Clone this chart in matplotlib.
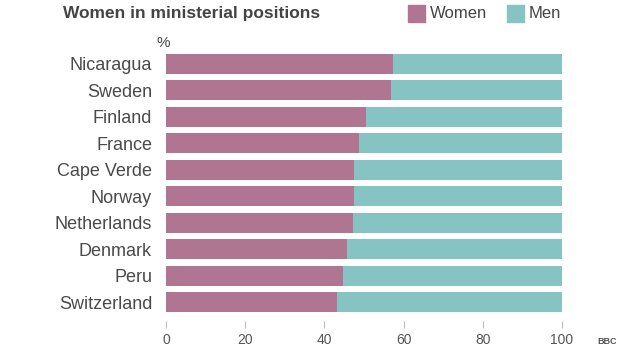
import numpy as np
import matplotlib.pyplot as plt

plt.rcParams["font.family"] = ["Liberation Sans", "DejaVu Sans"]

# Data
countries = ["Nicaragua", "Sweden", "Finland", "France", "Cape Verde",
             "Norway", "Netherlands", "Denmark", "Peru", "Switzerland"]
women = [57.2, 56.7, 50.4, 48.8, 47.4, 47.4, 47.1, 45.8, 44.6, 43.3]
men = [100 - w for w in women]
xticks = [0, 20, 40, 60, 80, 100]

women_col = "#b07590"
men_col = "#86c4c4"
text_col = "#444444"

fig = plt.figure(figsize=(6.25, 3.51), dpi=100)
ax = fig.add_axes([0.2656, 0.0943, 0.6336, 0.7687])

y = np.arange(len(countries))
ax.barh(y, women, height=0.76, color=women_col, linewidth=0)
ax.barh(y, men, left=women, height=0.76, color=men_col, linewidth=0)

ax.set_ylim(9.6, -0.6)
ax.set_xlim(0, 100)
ax.set_yticks(y)
ax.set_yticklabels(countries, fontsize=13)
ax.set_xticks(xticks)
ax.set_xticklabels([str(t) for t in xticks], fontsize=12.5)
ax.get_xticklabels()[-1].set_ha("right")
ax.tick_params(axis="y", length=0, pad=10, labelcolor="#4a4a4a")
ax.tick_params(axis="x", length=5, color="#bbbbbb", pad=4,
               labelcolor="#555555")
for s in ax.spines.values():
    s.set_visible(False)
ax.spines["bottom"].set_position(("outward", 2))

# Title, unit and legend
fig.text(0.101, 0.962, "Women in ministerial positions", fontsize=12.5,
         fontweight="bold", color=text_col, va="center")
fig.text(0.25, 0.878, "%", fontsize=11, color=text_col, va="center")

fig.patches.append(plt.Rectangle((0.653, 0.937), 0.027, 0.048,
                                 transform=fig.transFigure, color=women_col))
fig.text(0.688, 0.962, "Women", fontsize=12, color=text_col, va="center")
fig.patches.append(plt.Rectangle((0.811, 0.937), 0.027, 0.048,
                                 transform=fig.transFigure, color=men_col))
fig.text(0.846, 0.962, "Men", fontsize=12, color=text_col, va="center")

fig.text(0.955, 0.028, "BBC", fontsize=6.5, fontweight="bold",
         color="#555555", va="center")

plt.savefig("out.png", dpi=100)
